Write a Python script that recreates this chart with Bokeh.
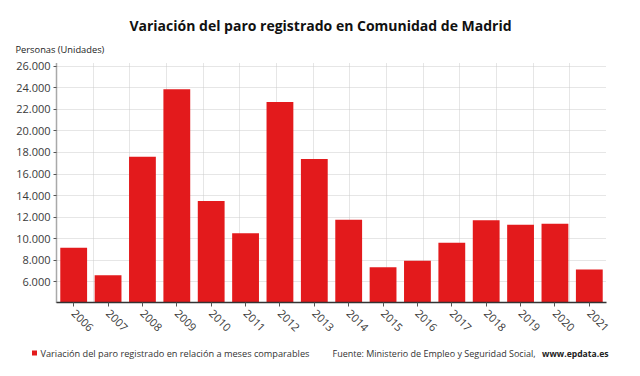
from bokeh.plotting import figure
from bokeh.layouts import column
from bokeh.embed import file_html
from bokeh.resources import INLINE
from bokeh.models import (FixedTicker, Range1d, CustomJSTickFormatter, Grid, Label, ColumnDataSource)
import math

# ---- data ----
years = [2006, 2007, 2008, 2009, 2010, 2011, 2012, 2013, 2014, 2015, 2016, 2017, 2018, 2019, 2020, 2021]
paro = [9160, 6610, 17610, 23860, 13490, 10515, 22680, 17390, 11760, 7360, 7950, 9620, 11720, 11300, 11390, 7140]
year_labels = [str(y) for y in years]
y_ticks = [6000, 8000, 10000, 12000, 14000, 16000, 18000, 20000, 22000, 24000, 26000]

title_text = "Variación del paro registrado en Comunidad de Madrid"
unit_text = "Personas (Unidades)"
legend_text = "Variación del paro registrado en relación a meses comparables"
source_text = "Fuente: Ministerio de Empleo y Seguridad Social,"
source_bold = "www.epdata.es"

FONT = "Open Sans"
RED = "#e31a1c"

W, H = 640, 376
TOP_H = 58          # header strip height
FOOT_Y = 342        # footer strip starts here
FL, FR, FT, FB = 56, 606, 62, 302   # chart frame edges in page pixels
X0, X1 = years[0] - 0.5, years[-1] + 0.5
Y0, Y1 = 4080, 26350


def text_strip(y_top, y_bot):
    f = figure(width=W, height=y_bot - y_top, output_backend="svg", toolbar_location=None,
               x_range=Range1d(0, W), y_range=Range1d(y_bot, y_top),
               x_axis_type=None, y_axis_type=None, frame_align=False,
               min_border=0, min_border_left=0, min_border_right=0,
               min_border_top=0, min_border_bottom=0)
    f.outline_line_color = None
    f.grid.visible = False
    f.background_fill_color = "white"
    f.border_fill_color = "white"
    return f


def lab(f, px, py, text, size, align="left", bold=False, color="#333333"):
    f.add_layout(Label(x=px, y=py, text=text, text_font=FONT, text_font_size=size,
                       text_font_style="bold" if bold else "normal", text_align=align,
                       text_baseline="middle", text_color=color))


# ---- header ----
head = text_strip(0, TOP_H)
lab(head, 320, 25, title_text, "14px", align="center", bold=True, color="#111111")
lab(head, 15, 49, unit_text, "9.3px", color="#222222")

# ---- chart ----
p = figure(width=W, height=FOOT_Y - TOP_H, output_backend="svg", toolbar_location=None,
           x_range=Range1d(X0, X1), y_range=Range1d(Y0, Y1), frame_align=False,
           min_border_left=FL, min_border_right=W - FR,
           min_border_top=FT - TOP_H, min_border_bottom=FOOT_Y - FB)
p.outline_line_color = None
p.background_fill_color = "white"
p.border_fill_color = "white"

src = ColumnDataSource(dict(x=years, top=paro))
p.vbar(x="x", top="top", bottom=0, width=0.78, source=src, fill_color=RED, line_color=None)

xa = p.xaxis[0]
xa.ticker = FixedTicker(ticks=years)
xa.major_label_overrides = {y: l for y, l in zip(years, year_labels)}
xa.major_label_orientation = -math.pi / 4
xa.major_label_text_font = FONT
xa.major_label_text_font_size = "11px"
xa.major_label_text_color = "#3a3a3a"
xa.axis_line_color = "#333333"
xa.axis_line_width = 1.5
xa.major_tick_in = 0
xa.major_tick_out = 4
xa.major_tick_line_color = "#555555"
xa.minor_tick_line_color = None
xa.major_label_standoff = 5

ya = p.yaxis[0]
ya.ticker = FixedTicker(ticks=y_ticks)
ya.formatter = CustomJSTickFormatter(code='return tick.toFixed(0).replace(/\\B(?=(\\d{3})+(?!\\d))/g, ".");')
ya.major_label_text_font = FONT
ya.major_label_text_font_size = "11px"
ya.major_label_text_color = "#3a3a3a"
ya.axis_line_color = "#555555"
ya.axis_line_dash = "1 1"
ya.axis_line_width = 1.5
ya.major_tick_in = 0
ya.major_tick_out = 3
ya.major_tick_line_color = "#555555"
ya.minor_tick_line_color = None
ya.major_label_standoff = 3

p.xgrid.visible = False
p.ygrid.grid_line_color = "#cccccc"
p.ygrid.grid_line_dash = "1 1"
n_grid = 15
vgrid_pos = [X0 + k * (X1 - X0) / n_grid for k in range(n_grid + 1)]
p.add_layout(Grid(dimension=0, ticker=FixedTicker(ticks=vgrid_pos),
                  grid_line_color="#cccccc", grid_line_dash="1 1"))

# ---- footer ----
foot = text_strip(FOOT_Y, H)
foot.rect(x=[34], y=[352.5], width=5, height=5, fill_color=RED, line_color=None)
lab(foot, 40, 353, legend_text, "9.2px")
lab(foot, 332, 353, source_text, "9px", align="left")
lab(foot, 608, 353, source_bold, "8.6px", align="right", bold=True, color="#222222")

layout = column(head, p, foot, spacing=0)
open("out.html", "w").write(file_html(layout, INLINE))
